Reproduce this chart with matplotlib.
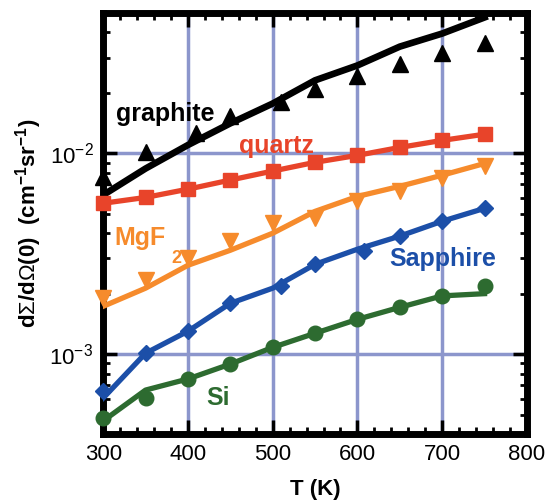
import matplotlib
matplotlib.use("Agg")
import matplotlib.pyplot as plt
from matplotlib.ticker import LogLocator, MultipleLocator, NullFormatter

plt.rcParams["font.family"] = ["Liberation Sans", "DejaVu Sans"]
plt.rcParams["mathtext.fontset"] = "custom"
plt.rcParams["mathtext.rm"] = "Liberation Sans"
plt.rcParams["mathtext.bf"] = "Liberation Sans:bold"

# temperatures (K)
T = [300, 350, 400, 450, 500, 550, 600, 650, 700, 750]

# graphite: curve + triangles
graphite_line = [6.2e-3, 8.4e-3, 1.10e-2, 1.41e-2, 1.77e-2, 2.31e-2, 2.74e-2, 3.40e-2, 3.95e-2, 4.75e-2]
graphite_T_pts = [300, 350, 410, 450, 510, 550, 600, 650, 700, 750]
graphite_pts = [7.66e-3, 1.01e-2, 1.26e-2, 1.53e-2, 1.81e-2, 2.10e-2, 2.44e-2, 2.80e-2, 3.15e-2, 3.56e-2]

# quartz
quartz = [5.64e-3, 6.03e-3, 6.63e-3, 7.36e-3, 8.16e-3, 9.02e-3, 9.77e-3, 1.07e-2, 1.16e-2, 1.245e-2]

# MgF2
mgf2_line = [1.73e-3, 2.13e-3, 2.77e-3, 3.29e-3, 4.0e-3, 5.14e-3, 6.1e-3, 6.85e-3, 7.78e-3, 8.9e-3]
mgf2_pts = [1.9e-3, 2.33e-3, 3.0e-3, 3.65e-3, 4.49e-3, 4.75e-3, 5.77e-3, 6.47e-3, 7.5e-3, 8.6e-3]

# sapphire
sapphire_line = [6.04e-4, 1.01e-3, 1.30e-3, 1.79e-3, 2.13e-3, 2.80e-3, 3.33e-3, 3.87e-3, 4.59e-3, 5.32e-3]
sapphire_T_pts = [300, 350, 400, 450, 510, 550, 608, 650, 700, 750]
sapphire_pts = [6.55e-4, 1.01e-3, 1.30e-3, 1.79e-3, 2.18e-3, 2.80e-3, 3.25e-3, 3.87e-3, 4.59e-3, 5.32e-3]

# Si
si_line = [4.65e-4, 6.62e-4, 7.52e-4, 8.92e-4, 1.08e-3, 1.27e-3, 1.49e-3, 1.71e-3, 1.95e-3, 2.0e-3]
si_pts = [4.8e-4, 6.04e-4, 7.52e-4, 8.92e-4, 1.08e-3, 1.27e-3, 1.49e-3, 1.71e-3, 1.95e-3, 2.18e-3]

BLACK = "#000000"
RED = "#e8442a"
ORANGE = "#f68b2c"
BLUE = "#1c4fa8"
GREEN = "#2d6b30"
GRID = "#8c96cc"

fig = plt.figure(figsize=(5.46, 5.0), dpi=100)
ax = fig.add_axes([0.189, 0.132, 0.776, 0.842])

ax.set_yscale("log")
ax.set_xlim(300, 800)
ax.set_ylim(4e-4, 5e-2)

ax.grid(True, which="major", color=GRID, linewidth=2.5, zorder=0)
ax.set_axisbelow(True)

mk = dict(linestyle="none", clip_on=False, zorder=4)

ax.plot(T, graphite_line, color=BLACK, lw=4.8, zorder=3)
ax.plot(graphite_T_pts, graphite_pts, marker="^", color=BLACK, ms=11.5, **mk)

ax.plot(T, quartz, color=RED, lw=3.8, zorder=3)
ax.plot(T, quartz, marker="s", color=RED, ms=10.5, **mk)

ax.plot(T, mgf2_line, color=ORANGE, lw=3.8, zorder=3)
ax.plot(T, mgf2_pts, marker="v", color=ORANGE, ms=11.5, **mk)

ax.plot(T, sapphire_line, color=BLUE, lw=3.8, zorder=3)
ax.plot(sapphire_T_pts, sapphire_pts, marker="D", color=BLUE, ms=8, **mk)

ax.plot(T, si_line, color=GREEN, lw=3.8, zorder=3)
ax.plot(T, si_pts, marker="o", color=GREEN, ms=10.5, **mk)

lab = dict(fontsize=18, fontweight="bold", va="baseline", zorder=5)
ax.text(373, 1.442e-2, "graphite", color=BLACK, ha="center", **lab)
ax.text(504, 1.0e-2, "quartz", color=RED, ha="center", **lab)
ax.text(313, 3.48e-3, "MgF", color=ORANGE, ha="left", **lab)
ax.text(380, 2.84e-3, "2", color=ORANGE, ha="left", fontsize=13, fontweight="bold",
        va="baseline", zorder=5)
ax.text(701, 2.74e-3, "Sapphire", color=BLUE, ha="center", **lab)
ax.text(436, 5.57e-4, "Si", color=GREEN, ha="center", **lab)

ax.xaxis.set_major_locator(MultipleLocator(100))
ax.xaxis.set_minor_locator(MultipleLocator(20))
ax.yaxis.set_major_locator(LogLocator(base=10))
ax.yaxis.set_minor_locator(LogLocator(base=10, subs=range(2, 10)))
ax.yaxis.set_minor_formatter(NullFormatter())

ax.tick_params(which="both", direction="in", top=True, right=True, labelsize=16)
ax.tick_params(which="major", length=10, width=2.5, pad=7)
ax.tick_params(which="minor", length=5, width=2)
for sp in ax.spines.values():
    sp.set_linewidth(5)

ax.set_xlabel("T (K)", fontsize=16, fontweight="bold", labelpad=10)
ax.set_ylabel(r"d$\Sigma$/d$\Omega$(0)  (cm$^{\mathbf{-1}}$sr$^{\mathbf{-1}}$)",
              fontsize=16, fontweight="bold", labelpad=4)

fig.savefig("out.png", dpi=100)
